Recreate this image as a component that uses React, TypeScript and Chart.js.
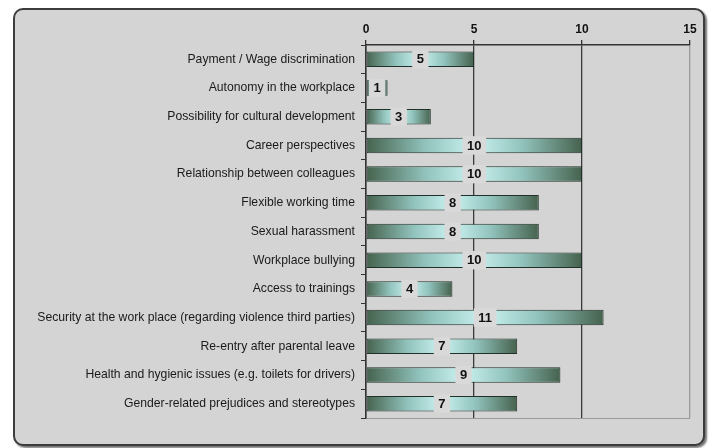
import React, { useEffect, useRef } from "react";
import { Chart, registerables } from "chart.js";

Chart.register(...registerables);

const categories = [
  "Payment / Wage discrimination",
  "Autonomy in the workplace",
  "Possibility for cultural development",
  "Career perspectives",
  "Relationship between colleagues",
  "Flexible working time",
  "Sexual harassment",
  "Workplace bullying",
  "Access to trainings",
  "Security at the work place (regarding violence third parties)",
  "Re-entry after parental leave",
  "Health and hygienic issues (e.g. toilets for drivers)",
  "Gender-related prejudices and stereotypes",
];
const values = [5, 1, 3, 10, 10, 8, 8, 10, 4, 11, 7, 9, 7];
const xMin = 0;
const xMax = 15;
const xStep = 5;

const FONT = '"Liberation Sans", Arial, sans-serif';
const PANEL_BG = "#d4d4d4";

const barLabelPlugin = {
  id: "barLabels",
  afterDatasetsDraw(chart: any) {
    const ctx = chart.ctx;
    const meta = chart.getDatasetMeta(0);
    const data = chart.data.datasets[0].data;
    ctx.save();
    ctx.font = `bold 13px ${FONT}`;
    ctx.textAlign = "center";
    ctx.textBaseline = "middle";
    meta.data.forEach((bar: any, i: number) => {
      const p = bar.getProps(["x", "y", "base", "height"], true);
      const cx = (p.x + p.base) / 2;
      const text = String(data[i]);
      const w = ctx.measureText(text).width + 9;
      const h = p.height + 3;
      ctx.fillStyle = "#d9d9d9";
      ctx.fillRect(cx - w / 2, p.y - h / 2, w, h);
      ctx.fillStyle = "#111";
      ctx.fillText(text, cx, p.y + 0.5);
    });
    ctx.restore();
  },
};

function barGradient(c: any) {
  const chart = c.chart;
  const xs = chart.scales && chart.scales.x;
  const fallback = "#7fa08c";
  if (!xs || c.raw === undefined) return fallback;
  const x0 = xs.getPixelForValue(0);
  const x1 = xs.getPixelForValue(c.raw);
  if (!isFinite(x0) || !isFinite(x1) || x1 === x0) return fallback;
  const g = chart.ctx.createLinearGradient(x0, 0, x1, 0);
  g.addColorStop(0, "#45624d");
  g.addColorStop(0.28, "#92c4be");
  g.addColorStop(0.5, "#cbf2f0");
  g.addColorStop(0.72, "#92c4be");
  g.addColorStop(1, "#45624d");
  return g;
}

export default function App() {
  const ref = useRef<HTMLCanvasElement | null>(null);

  useEffect(() => {
    if (!ref.current) return;
    const chart = new Chart(ref.current, {
      type: "bar",
      data: {
        labels: categories,
        datasets: [
          {
            data: values,
            backgroundColor: barGradient as any,
            borderColor: "#22302a",
            borderWidth: 1,
            borderSkipped: false,
            categoryPercentage: 1,
            barPercentage: 0.54,
          },
        ],
      },
      options: {
        indexAxis: "y",
        responsive: false,
        animation: false,
        events: [],
        layout: { padding: { left: 0, top: 20, right: 22, bottom: 30 } },
        plugins: {
          legend: { display: false },
          tooltip: { enabled: false },
        },
        scales: {
          x: {
            position: "top",
            min: xMin,
            max: xMax,
            afterFit: (s: any) => {
              s.height = 25;
            },
            ticks: {
              stepSize: xStep,
              padding: 3,
              color: "#111",
              font: { family: FONT, size: 12, weight: "bold" },
            },
            grid: {
              color: (c: any) =>
                c.tick && c.tick.value === xMax ? "#9a9a9a" : "#3a3a3a",
              lineWidth: 1.3,
              tickLength: 5,
              tickColor: "#333",
            },
            border: { display: true, color: "#333", width: 1.5 },
          },
          y: {
            afterFit: (s: any) => {
              s.width = 366;
            },
            ticks: {
              padding: 6,
              color: "#1a1a1a",
              font: { family: FONT, size: 12.2 },
            },
            grid: {
              offset: true,
              drawOnChartArea: true,
              color: (c: any) => (c.type === "scale" ? "#9a9a9a" : "transparent"),
              tickColor: "#333",
              tickLength: 5,
              lineWidth: 1,
            },
            border: { display: true, color: "#333", width: 1.5 },
          },
        },
      },
      plugins: [barLabelPlugin],
    } as any);
    return () => chart.destroy();
  }, []);

  return (
    <div
      style={{
        position: "fixed",
        left: 0,
        top: 0,
        width: 712,
        height: 448,
        background: "#ffffff",
        overflow: "hidden",
      }}
    >
      <div
        style={{
          position: "absolute",
          left: 13,
          top: 8,
          width: 688,
          height: 434,
          background: PANEL_BG,
          border: "2px solid #3c3c3c",
          borderRadius: 10,
          boxShadow: "2px 2px 2px rgba(0,0,0,0.55)",
        }}
      />
      <canvas
        ref={ref}
        width={712}
        height={448}
        style={{ position: "absolute", left: 0, top: 0, width: 712, height: 448 }}
      />
    </div>
  );
}
